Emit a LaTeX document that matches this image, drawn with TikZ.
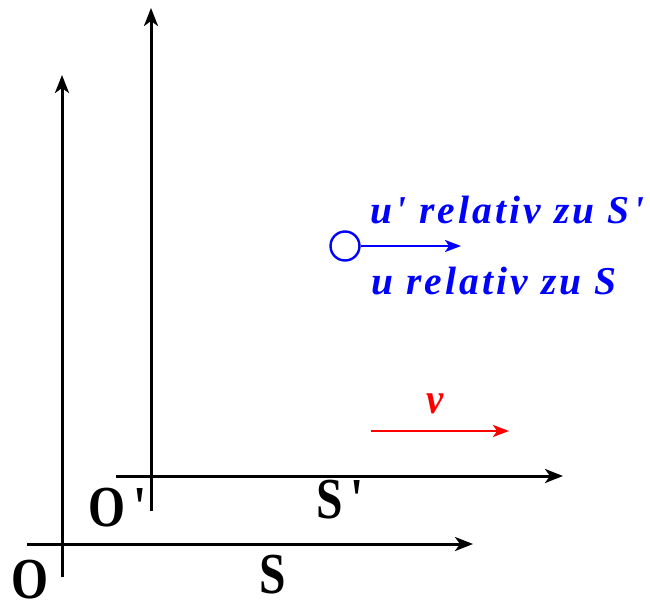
\documentclass[tikz,border=0pt]{standalone}
\usepackage{fontspec}
\setmainfont{Liberation Serif}[Ligatures={TeXOff,NoCommon}]
\newfontfamily\spaced[LetterSpace=8,Ligatures={TeXOff,NoCommon}]{Liberation Serif}
\usetikzlibrary{arrows.meta}
\definecolor{myblue}{RGB}{0,0,255}
\definecolor{myred}{RGB}{255,0,0}
\tikzset{
  axis/.style={line width=3pt, -{Stealth[length=18pt,width=14pt,inset=5pt]}},
  lbl/.style={inner sep=0pt, font=\fontsize{58}{62}\selectfont\bfseries, xscale=0.82},
  bluetxt/.style={inner sep=0pt, anchor=west, text=myblue, font=\fontsize{39.5}{44}\selectfont\spaced\bfseries\itshape},
}
\begin{document}
\begin{tikzpicture}[x=1pt,y=-1pt]
\useasboundingbox (0,0) rectangle (650,602);
% S axes
\coordinate (sv0) at (62,577);
\coordinate (sv1) at (62,75);
\coordinate (sh0) at (27,544);
\coordinate (sh1) at (473,544);
\draw[axis] (sv0) -- (sv1);
\draw[axis] (sh0) -- (sh1);
% S' axes
\coordinate (pv0) at (151,511);
\coordinate (pv1) at (151,8);
\coordinate (ph0) at (116,476);
\coordinate (ph1) at (563,476);
\draw[axis] (pv0) -- (pv1);
\draw[axis] (ph0) -- (ph1);
% labels
\node[lbl] (O) at (30,580) {O};
\node[lbl] (Op) at (118,508) {O\,'};
\node[lbl] (Sp) at (340,500) {S\,'};
\node[lbl] (S) at (273,575) {S};
% particle
\node[draw=myblue, line width=2.4pt, circle, minimum size=29pt, inner sep=0pt] (p) at (345,246) {};
\coordinate (pe) at (461,246);
\draw[myblue, line width=2.4pt, -{Stealth[length=16pt,width=12pt,inset=4pt]}] (p.east) -- (pe);
\node[bluetxt] (t1) at (370,210) {u' relativ zu S'};
\node[bluetxt] (t2) at (371,281) {u relativ zu S};
% v
\coordinate (v0) at (371,431);
\coordinate (v1) at (509,431);
\draw[myred, line width=2.6pt, -{Stealth[length=16pt,width=12pt,inset=4pt]}] (v0) -- (v1);
\node[inner sep=0pt, text=myred, xscale=0.9, font=\fontsize{43}{46}\selectfont\bfseries\itshape] (v) at (435,404) {v};
\end{tikzpicture}
\end{document}
